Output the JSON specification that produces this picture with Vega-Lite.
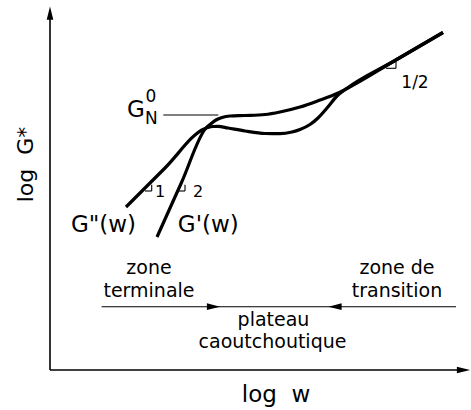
{
  "$schema": "https://vega.github.io/schema/vega-lite/v6.json",
  "width": 471,
  "height": 410,
  "padding": 0,
  "autosize": {"type": "none"},
  "background": "white",
  "config": {"view": {"stroke": null}, "text": {"font": "DejaVu Sans", "color": "black"}},
  "datasets": {
    "curves": [
      {"curve": "G'", "u": 2.675, "v": 3.325},
      {"curve": "G'", "u": 3.2875, "v": 4.6875},
      {"curve": "G'", "u": 3.9, "v": 6.05},
      {"curve": "G'", "u": 4.0, "v": 6.1375},
      {"curve": "G'", "u": 4.15, "v": 6.25},
      {"curve": "G'", "u": 4.3, "v": 6.3125},
      {"curve": "G'", "u": 4.5, "v": 6.35},
      {"curve": "G'", "u": 4.875, "v": 6.3625},
      {"curve": "G'", "u": 5.375, "v": 6.3875},
      {"curve": "G'", "u": 5.75, "v": 6.45},
      {"curve": "G'", "u": 6.25, "v": 6.575},
      {"curve": "G'", "u": 6.75, "v": 6.75},
      {"curve": "G'", "u": 7.175, "v": 6.9125},
      {"curve": "G'", "u": 7.4, "v": 7.025},
      {"curve": "G'", "u": 8.625, "v": 7.7375},
      {"curve": "G'", "u": 9.825, "v": 8.4375},
      {"curve": "G''", "u": 1.9, "v": 4.075},
      {"curve": "G''", "u": 2.875, "v": 5.05},
      {"curve": "G''", "u": 3.85, "v": 6.025},
      {"curve": "G''", "u": 3.95, "v": 6.0625},
      {"curve": "G''", "u": 4.075, "v": 6.0875},
      {"curve": "G''", "u": 4.2, "v": 6.0925},
      {"curve": "G''", "u": 4.45, "v": 6.05},
      {"curve": "G''", "u": 4.875, "v": 5.975},
      {"curve": "G''", "u": 5.375, "v": 5.9125},
      {"curve": "G''", "u": 5.75, "v": 5.9075},
      {"curve": "G''", "u": 6.05, "v": 5.95},
      {"curve": "G''", "u": 6.25, "v": 6.0125},
      {"curve": "G''", "u": 6.5, "v": 6.1375},
      {"curve": "G''", "u": 6.7, "v": 6.3},
      {"curve": "G''", "u": 6.925, "v": 6.55},
      {"curve": "G''", "u": 7.175, "v": 6.85},
      {"curve": "G''", "u": 7.4, "v": 7.025},
      {"curve": "G''", "u": 8.625, "v": 7.7375},
      {"curve": "G''", "u": 9.825, "v": 8.4375}
    ],
    "segs": [
      {"kind": "axis", "u": 0, "v": 0, "u2": 0, "v2": 8.9},
      {"kind": "axis", "u": 0, "v": 0, "u2": 10.33, "v2": 0},
      {"kind": "thin", "u": 1.29, "v": 1.5825, "u2": 10.15, "v2": 1.5825},
      {"kind": "thin", "u": 2.8325, "v": 6.375, "u2": 4.2075, "v2": 6.375},
      {"kind": "thin", "u": 2.375, "v": 4.475, "u2": 2.5425, "v2": 4.475},
      {"kind": "thin", "u": 2.5425, "v": 4.475, "u2": 2.5425, "v2": 4.6325},
      {"kind": "thin", "u": 3.225, "v": 4.475, "u2": 3.375, "v2": 4.475},
      {"kind": "thin", "u": 3.375, "v": 4.475, "u2": 3.375, "v2": 4.6325},
      {"kind": "thin", "u": 8.4, "v": 7.5425, "u2": 8.65, "v2": 7.5425},
      {"kind": "thin", "u": 8.65, "v": 7.5425, "u2": 8.65, "v2": 7.7075}
    ],
    "heads": [
      {"dir": "up", "u": 0, "v": 8.92},
      {"dir": "right", "u": 10.3375, "v": 0},
      {"dir": "right", "u": 4.0875, "v": 1.5825},
      {"dir": "left", "u": 7.125, "v": 1.5825}
    ],
    "labels": [
      {"cls": "zone", "text": "zone", "u": 2.475, "v": 2.4},
      {"cls": "zone", "text": "terminale", "u": 2.475, "v": 1.8375},
      {"cls": "zone", "text": "zone de", "u": 8.675, "v": 2.4},
      {"cls": "zone", "text": "transition", "u": 8.675, "v": 1.8375},
      {"cls": "zone", "text": "plateau", "u": 5.5875, "v": 1.1},
      {"cls": "zone", "text": "caoutchoutique", "u": 5.5625, "v": 0.5625},
      {"cls": "big", "text": "G\"(w)", "u": 1.3375, "v": 3.4575},
      {"cls": "big", "text": "G'(w)", "u": 3.9575, "v": 3.4575},
      {"cls": "big", "text": "log\u00a0\u00a0w", "u": 5.65, "v": -0.7925},
      {"cls": "big", "text": "G", "u": 2.15, "v": 6.3325},
      {"cls": "yaxis", "text": "log\u00a0\u00a0G*", "u": -0.4175, "v": 5.1375},
      {"cls": "sub", "text": "N", "u": 2.375, "v": 6.15},
      {"cls": "sub", "text": "0", "u": 2.3875, "v": 6.7075},
      {"cls": "slope", "text": "1", "u": 2.75, "v": 4.325},
      {"cls": "slope", "text": "2", "u": 3.7, "v": 4.325},
      {"cls": "half", "text": "1/2", "u": 9.125, "v": 7.0425}
    ]
  },
  "layer": [
    {
      "data": {"name": "segs"},
      "transform": [{"filter": "datum.kind === 'axis'"}],
      "mark": {"type": "rule", "strokeWidth": 1.6, "color": "black"},
      "encoding": {
        "x": {"field": "u", "type": "quantitative", "scale": {"domain": [-1.25, 10.525], "nice": false, "zero": false}, "axis": null},
        "y": {"field": "v", "type": "quantitative", "scale": {"domain": [-1, 9.25], "nice": false, "zero": false}, "axis": null},
        "x2": {"field": "u2"},
        "y2": {"field": "v2"}
      }
    },
    {
      "data": {"name": "segs"},
      "transform": [{"filter": "datum.kind === 'thin'"}],
      "mark": {"type": "rule", "strokeWidth": 1.1, "color": "black"},
      "encoding": {
        "x": {"field": "u", "type": "quantitative", "scale": {"domain": [-1.25, 10.525], "nice": false, "zero": false}, "axis": null},
        "y": {"field": "v", "type": "quantitative", "scale": {"domain": [-1, 9.25], "nice": false, "zero": false}, "axis": null},
        "x2": {"field": "u2"},
        "y2": {"field": "v2"}
      }
    },
    {
      "data": {"name": "heads"},
      "mark": {"type": "point", "filled": true, "size": 177, "color": "black", "opacity": 1},
      "encoding": {
        "x": {"field": "u", "type": "quantitative", "scale": {"domain": [-1.25, 10.525], "nice": false, "zero": false}, "axis": null},
        "y": {"field": "v", "type": "quantitative", "scale": {"domain": [-1, 9.25], "nice": false, "zero": false}, "axis": null},
        "shape": {"field": "dir", "type": "nominal", "legend": null,
          "scale": {"domain": ["up", "right", "left"], "range": ["M0,-1L0.5,1L-0.5,1Z", "M1,0L-1,0.5L-1,-0.5Z", "M-1,0L1,0.5L1,-0.5Z"]}}
      }
    },
    {
      "data": {"name": "curves"},
      "mark": {"type": "line", "interpolate": "monotone", "strokeWidth": 3.2, "color": "black", "strokeCap": "butt", "strokeJoin": "round"},
      "encoding": {
        "x": {"field": "u", "type": "quantitative", "scale": {"domain": [-1.25, 10.525], "nice": false, "zero": false}, "axis": null},
        "y": {"field": "v", "type": "quantitative", "scale": {"domain": [-1, 9.25], "nice": false, "zero": false}, "axis": null},
        "detail": {"field": "curve", "type": "nominal"}
      }
    },
    {
      "data": {"name": "labels"},
      "transform": [{"filter": "datum.cls === 'zone'"}],
      "mark": {"type": "text", "fontSize": 19, "align": "center", "baseline": "alphabetic"},
      "encoding": {
        "x": {"field": "u", "type": "quantitative", "scale": {"domain": [-1.25, 10.525], "nice": false, "zero": false}, "axis": null},
        "y": {"field": "v", "type": "quantitative", "scale": {"domain": [-1, 9.25], "nice": false, "zero": false}, "axis": null},
        "text": {"field": "text"}
      }
    },
    {
      "data": {"name": "labels"},
      "transform": [{"filter": "datum.cls === 'big'"}],
      "mark": {"type": "text", "fontSize": 23, "align": "center", "baseline": "alphabetic"},
      "encoding": {
        "x": {"field": "u", "type": "quantitative", "scale": {"domain": [-1.25, 10.525], "nice": false, "zero": false}, "axis": null},
        "y": {"field": "v", "type": "quantitative", "scale": {"domain": [-1, 9.25], "nice": false, "zero": false}, "axis": null},
        "text": {"field": "text"}
      }
    },
    {
      "data": {"name": "labels"},
      "transform": [{"filter": "datum.cls === 'yaxis'"}],
      "mark": {"type": "text", "fontSize": 22, "align": "center", "baseline": "alphabetic", "angle": 270},
      "encoding": {
        "x": {"field": "u", "type": "quantitative", "scale": {"domain": [-1.25, 10.525], "nice": false, "zero": false}, "axis": null},
        "y": {"field": "v", "type": "quantitative", "scale": {"domain": [-1, 9.25], "nice": false, "zero": false}, "axis": null},
        "text": {"field": "text"}
      }
    },
    {
      "data": {"name": "labels"},
      "transform": [{"filter": "datum.cls === 'sub'"}],
      "mark": {"type": "text", "fontSize": 17, "align": "left", "baseline": "alphabetic"},
      "encoding": {
        "x": {"field": "u", "type": "quantitative", "scale": {"domain": [-1.25, 10.525], "nice": false, "zero": false}, "axis": null},
        "y": {"field": "v", "type": "quantitative", "scale": {"domain": [-1, 9.25], "nice": false, "zero": false}, "axis": null},
        "text": {"field": "text"}
      }
    },
    {
      "data": {"name": "labels"},
      "transform": [{"filter": "datum.cls === 'slope'"}],
      "mark": {"type": "text", "fontSize": 16, "align": "center", "baseline": "alphabetic"},
      "encoding": {
        "x": {"field": "u", "type": "quantitative", "scale": {"domain": [-1.25, 10.525], "nice": false, "zero": false}, "axis": null},
        "y": {"field": "v", "type": "quantitative", "scale": {"domain": [-1, 9.25], "nice": false, "zero": false}, "axis": null},
        "text": {"field": "text"}
      }
    },
    {
      "data": {"name": "labels"},
      "transform": [{"filter": "datum.cls === 'half'"}],
      "mark": {"type": "text", "fontSize": 17, "align": "center", "baseline": "alphabetic"},
      "encoding": {
        "x": {"field": "u", "type": "quantitative", "scale": {"domain": [-1.25, 10.525], "nice": false, "zero": false}, "axis": null},
        "y": {"field": "v", "type": "quantitative", "scale": {"domain": [-1, 9.25], "nice": false, "zero": false}, "axis": null},
        "text": {"field": "text"}
      }
    }
  ]
}
